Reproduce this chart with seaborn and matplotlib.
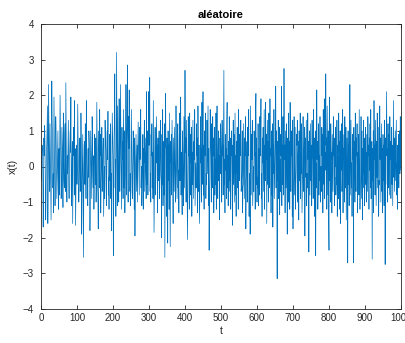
import numpy as np
import pandas as pd
import matplotlib
matplotlib.use("Agg")
import matplotlib.pyplot as plt
import seaborn as sns

# Signal values read (estimated) from the reference, t = 1..1000
signal_x = [
    # t 1-50
    -0.4, 0.3, 0.6, 0.45, -0.2, -1.7, -0.9, 0.8, 0.3, 1.15,
    0.7, -0.5, -1.5, -0.8, 0.4, 0.6, 1.1, 1.7, -1.6, -0.4,
    2.3, 0.9, -0.3, -0.7, 1.2, 0.2, -1.0, -1.5, 0.5, 2.4,
    1.3, 0.8, -0.6, -0.2, -1.3, 1.95, 0.6, -0.4, -1.1, -0.5,
    1.4, 0.9, 0.0, -0.9, -0.3, 0.4, 1.0, -0.7, -1.2, 0.5,
    # t 51-100
    -0.8, 0.6, 2.0, 1.1, 0.1, -0.9, -0.4, 1.1, 0.7, 0.3,
    -1.15, 1.5, 0.2, -0.4, -0.6, 0.9, 1.2, -0.7, 2.35, 0.8,
    -0.5, -1.0, 0.3, -0.2, 0.6, 1.3, -0.3, -0.9, 0.1, 0.5,
    1.0, 0.4, 1.95, -0.6, -1.1, 0.2, 0.7, -1.6, -0.4, 1.1,
    0.6, 0.3, 1.85, -0.8, 0.5, -1.65, -0.7, 0.2, 0.6, -0.5,
    # t 101-150
    -0.1, 1.75, 0.9, 0.1, -1.0, -0.5, 0.3, 0.8, -0.7, -0.2,
    1.5, 0.4, -1.9, -0.6, 0.2, 0.9, -0.8, -2.55, -0.3, 0.6,
    0.7, -0.5, 1.2, 0.4, -0.9, 1.85, 0.6, 0.0, -0.8, -1.1,
    0.5, -0.3, 1.0, 0.7, 0.2, -1.8, -0.6, 1.0, 0.4, -0.1,
    -0.9, 1.4, 0.8, -0.2, -0.6, 0.3, -1.2, -0.5, 0.9, 0.4,
    # t 151-200
    -0.5, 0.8, -1.0, -0.3, 1.8, 0.6, -0.4, -0.8, -1.75, 0.5,
    1.0, -0.6, 1.6, 0.3, 0.9, -1.3, -0.4, 0.1, 1.1, -0.7,
    -0.2, 0.5, 0.8, -1.4, -0.6, 0.0, -0.9, 1.3, 0.7, 0.5,
    -0.6, -1.1, 0.7, 1.0, 0.2, 1.55, -0.8, -0.3, -1.2, 0.9,
    0.1, -0.4, 1.2, -0.9, -0.2, -1.8, 0.3, 1.5, 0.8, 0.2,
    # t 201-250
    -2.5, -0.4, 0.8, 1.3, 2.6, -0.6, 0.2, -1.4, 0.9, 3.2,
    0.6, -1.1, 1.7, 0.5, -0.6, -1.0, 1.9, 0.1, -0.7, 0.8,
    2.3, 0.4, -0.5, -1.2, 1.1, 0.2, 0.7, -0.9, 1.6, 0.3,
    -0.6, 1.0, -1.3, -0.4, 0.1, 2.3, -0.8, 0.6, 1.2, 2.85,
    0.2, -1.0, 1.4, 0.5, 2.15, 0.0, -0.7, -0.2, -1.1, 0.5,
    # t 251-300
    1.6, 0.3, -0.7, -0.9, 0.2, 1.0, 0.6, -0.4, -1.2, 0.8,
    -1.95, -0.3, 0.4, 0.9, -0.7, -0.1, 0.6, -1.0, 0.5, 1.25,
    0.5, -0.2, -0.8, 1.1, 0.2, 0.4, 1.6, -0.6, 0.0, -1.1,
    -0.7, 0.3, 0.9, -1.2, 0.5, 0.1, 1.3, -0.7, -0.2, 0.4,
    0.8, -0.9, 2.1, 0.1, -0.5, 1.0, -0.8, 0.3, 2.1, 0.6,
    # t 301-350
    0.6, 2.5, -0.7, -0.2, -1.0, 0.9, 0.3, 1.2, -0.6, 0.4,
    -0.9, 1.85, 0.1, -1.85, -0.7, 0.2, 1.1, -0.8, -0.3, 0.5,
    1.4, 0.1, 0.6, -1.3, 0.8, -0.4, 0.2, 1.0, -0.9, -0.5,
    0.6, 1.3, -0.2, -0.4, -2.0, 0.9, -0.5, 1.6, -1.1, 0.3,
    0.7, -0.8, 1.2, -2.55, -0.1, 2.05, 0.6, 0.5, -1.4, 0.8,
    # t 351-400
    0.2, -2.15, 1.0, -0.4, 0.6, -1.2, 1.5, -0.3, -2.25, 0.7,
    0.1, 0.9, -0.8, 1.3, 0.5, -0.4, -1.6, 0.8, 0.0, -0.7,
    1.1, 0.3, -0.5, -1.0, 1.7, 0.2, -0.3, -0.9, 0.6, 1.2,
    -0.6, -0.1, -1.3, 0.8, 1.5, -0.4, 0.2, 1.95, -0.8, 0.4,
    -0.2, -1.35, 1.0, 0.5, -0.7, -1.1, 1.4, 0.3, -0.6, 2.7,
    # t 401-450
    0.4, 0.8, -1.0, 1.3, 0.2, -0.7, -2.05, -0.6, 1.4, 0.3,
    0.5, -1.2, 1.5, 0.1, 0.9, -0.8, -0.3, 1.1, -1.4, 0.4,
    -0.5, 1.3, 0.0, -0.9, 0.7, 0.2, 1.6, -1.1, -0.5, 0.1,
    -0.6, 1.2, 0.3, 0.8, -1.3, 1.7, 0.2, -0.7, 0.6, -1.6,
    -0.9, -0.4, 1.4, 0.1, 0.5, -1.0, 1.8, -0.5, 0.3, 2.1,
    # t 451-500
    -0.8, 0.6, -1.2, 1.0, 0.3, 0.4, 1.5, -0.9, -0.2, -0.5,
    1.3, -0.2, 0.7, 1.7, -1.1, 0.5, -2.35, -0.9, -0.4, 1.6,
    0.7, 0.3, -1.0, 1.2, 0.0, -0.6, 1.4, 0.3, 0.8, -1.3,
    -0.4, 1.1, -0.8, 0.2, -0.5, 1.5, -1.2, 0.6, 1.7, 0.1,
    -0.9, 0.5, 1.0, -0.4, 0.3, -1.5, 0.8, -0.2, 1.2, 0.7,
    # t 501-550
    0.4, -1.0, 1.3, 0.3, 0.6, -0.8, 1.1, 2.7, -0.5, 0.2,
    -1.3, 0.9, -0.1, 0.5, -0.9, 1.2, 1.8, -0.6, 0.3, -1.1,
    0.7, -0.4, 1.4, 0.0, -0.7, 0.8, -1.2, -0.4, 1.0, 0.3,
    0.6, -1.65, 0.2, 1.3, -0.5, 0.9, -1.0, 0.1, 1.5, -0.8,
    0.3, -1.4, 0.7, -0.2, 1.1, -0.6, 0.5, -1.2, 1.6, 0.0,
    # t 551-600
    -0.4, 0.9, 0.4, 0.3, 1.3, -0.7, -0.5, -0.2, 1.0, -1.3,
    -0.6, -0.5, 1.2, 0.1, -0.9, 0.8, 0.3, 1.4, -1.75, -0.4,
    -0.1, 0.7, -1.0, 1.1, 0.6, 0.3, 1.6, -1.4, -0.2, -0.4,
    -1.9, 1.7, 0.5, -0.8, 0.9, 0.2, 1.3, -1.1, -0.6, 0.0,
    -0.7, 1.0, 0.3, 0.4, -1.2, 1.5, 2.05, -0.5, 0.8, -1.0,
    # t 601-650
    -0.3, -0.6, 1.2, -1.1, 0.5, 0.1, -0.8, 1.4, 0.3, 0.7,
    1.9, -0.9, -0.2, -1.4, 0.8, 0.1, 1.1, -0.7, 0.4, 1.6,
    -1.2, 0.6, -0.4, 1.8, 0.2, 0.9, -1.6, -0.3, 1.3, -0.5,
    0.7, -1.0, 1.5, 0.0, -0.6, 1.9, 0.3, 0.5, -1.3, 1.0,
    -0.8, -0.4, 1.2, -1.7, 0.6, -0.2, 1.6, -0.9, -0.3, 0.4,
    # t 651-700
    0.8, 2.25, -0.6, 1.0, -0.2, -3.15, 0.7, -0.4, 1.3, -0.9,
    0.5, 1.1, -1.35, 0.2, -0.7, 0.9, 0.3, 2.25, -1.1, 0.6,
    -0.5, 1.4, 0.0, -0.8, 2.75, 0.2, 0.6, -1.3, 1.0, 0.3,
    -0.6, 1.2, 0.1, -1.9, 0.8, 0.4, -1.0, 1.5, -0.4, 0.7,
    -1.2, 1.8, 0.1, -0.7, 1.0, 0.3, 0.5, -1.4, 1.3, -1.75,
    # t 701-750
    -0.6, -0.3, 1.4, -0.8, 0.2, 1.1, -1.2, -0.5, -0.1, 0.9,
    0.6, 1.3, -1.0, 0.3, 0.7, -1.5, 1.0, -0.4, 0.2, 1.5,
    -0.9, 0.4, -0.2, 1.2, -1.3, -0.6, 0.0, 1.4, -0.7, 0.3,
    0.5, 1.1, -1.95, 0.8, -0.3, 0.5, 1.3, -1.1, -0.2, -0.6,
    1.5, 0.2, 0.7, -2.4, 0.4, 1.0, -0.8, 0.3, 1.2, -0.4,
    # t 751-800
    0.6, -1.1, 1.3, 0.3, 0.2, -0.9, 1.6, -0.5, 0.8, -1.4,
    -0.4, 1.0, -2.5, 0.1, -0.6, 2.15, 0.2, 0.7, -1.2, -0.5,
    1.2, -0.8, 0.3, -0.4, 1.4, -1.0, -0.6, 0.0, -0.7, 1.1,
    0.3, 0.9, -1.3, 1.6, 0.2, -0.5, 1.9, -0.9, 0.4, -0.1,
    2.6, 0.6, 0.8, -1.2, 1.7, 0.3, -0.8, 1.0, -1.5, -2.35,
    # t 801-850
    1.95, -0.4, 0.6, -1.0, 1.2, 0.2, 0.4, -1.3, 0.9, 0.1,
    -0.7, 1.4, 0.3, 0.5, -1.1, 0.8, 0.0, 1.1, -0.8, -0.3,
    -0.5, 1.3, -1.4, 0.6, 0.2, -0.9, 1.5, 0.4, 0.7, -1.2,
    1.0, -1.6, 0.4, -0.1, 1.2, -0.7, -0.3, 1.6, -1.3, 0.5,
    0.2, 0.9, -1.0, 1.4, 0.1, -0.6, 1.1, -1.5, -0.4, 0.8,
    # t 851-900
    -0.3, -2.7, 1.0, -0.5, 0.6, -1.1, 0.2, 2.3, -0.8, 0.4,
    1.3, -0.6, 0.1, -1.4, 0.9, 0.2, 0.5, -2.7, 1.1, -0.4,
    0.7, -1.0, 1.5, 0.0, -0.7, 0.8, 0.3, 1.2, -1.3, 0.4,
    -0.1, 0.9, -0.8, 1.6, 0.3, -1.2, -0.6, -0.4, 1.4, -0.9,
    0.2, 1.0, -1.5, 0.5, -0.2, 1.3, -0.6, 0.8, -1.1, -0.3,
    # t 901-950
    1.1, -0.5, 0.4, -1.0, 0.9, 0.1, -0.7, 1.4, 0.3, 0.6,
    -1.2, 0.8, -0.1, 1.2, -0.6, 1.6, -0.9, 0.3, 0.7, -2.6,
    0.5, -0.4, 1.0, -1.3, 1.85, 0.2, 0.6, -0.8, 1.3, 0.0,
    -1.1, 0.7, -0.3, 1.5, -0.6, 0.2, 1.1, -1.4, -0.4, -0.5,
    1.7, 0.2, 0.8, -1.0, 0.3, 1.2, -0.7, 0.5, -1.3, 0.9,
    # t 951-1000
    -0.4, 0.6, -1.1, 1.3, 0.2, -2.75, 0.8, -0.5, 1.0, 2.1,
    0.3, 0.5, -1.0, 1.2, -0.6, 0.9, 0.1, -0.8, 1.4, 0.2,
    0.7, -0.9, 0.3, 1.1, -0.5, 0.6, -1.1, 0.4, 1.85, -0.3,
    0.8, -0.7, 0.2, 1.0, -0.4, 0.5, 1.3, -0.8, 0.1, -1.2,
    0.6, -0.3, 0.9, -0.6, 0.4, 1.0, -0.2, 1.4, 0.2, -0.1,
]
x_ticks = [0, 100, 200, 300, 400, 500, 600, 700, 800, 900, 1000]
y_ticks = [-4, -3, -2, -1, 0, 1, 2, 3, 4]
title_text = "aléatoire"
x_label = "t"
y_label = "x(t)"

df = pd.DataFrame({"t": np.arange(1, len(signal_x) + 1), "x": signal_x})

sns.set_style("ticks")
plt.rcParams["font.family"] = ["Liberation Sans", "DejaVu Sans"]

W, H = 405, 343
fig = plt.figure(figsize=(W / 100, H / 100), dpi=100)
ax = fig.add_axes([41 / W, 34 / H, 360 / W, 285 / H])

sns.lineplot(data=df, x="t", y="x", ax=ax, color="#0072BD", linewidth=0.5,
             estimator=None, sort=False)

ax.set_xlim(0, 1000)
ax.set_ylim(-4, 4)
ax.set_xticks(x_ticks)
ax.set_yticks(y_ticks)
edge = "#262626"
ax.tick_params(direction="in", top=True, right=True, length=3, width=0.6,
               labelsize=7, colors=edge)
ax.tick_params(axis="x", pad=3)
ax.tick_params(axis="y", pad=5)
for s in ax.spines.values():
    s.set_visible(True)
    s.set_linewidth(0.6)
    s.set_color(edge)

ax.set_title(title_text, fontsize=8, fontweight="bold", pad=4, color="black")
ax.set_xlabel(x_label, fontsize=7.5, color=edge, labelpad=2)
ax.set_ylabel(y_label, fontsize=7.5, color=edge, labelpad=4)

fig.savefig("out.png", dpi=100)
